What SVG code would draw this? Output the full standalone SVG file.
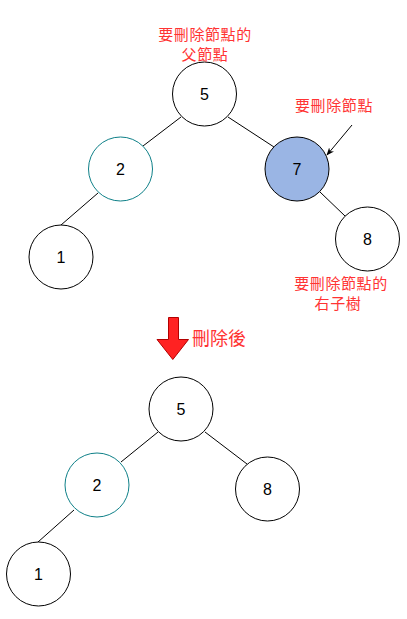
<svg xmlns="http://www.w3.org/2000/svg" width="407" height="619" viewBox="0 0 407 619">
<defs>
<style>
.n{fill:#ffffff;stroke:#000000;stroke-width:1}
.lbl{font-family:"Liberation Sans",Arial,sans-serif;font-size:16px;fill:#000000;text-anchor:middle;dominant-baseline:central}
.red{font-family:"Noto Sans CJK TC","Noto Sans CJK SC",sans-serif;font-size:15px;letter-spacing:0.6px;fill:#ff3333;text-anchor:middle}
.e{stroke:#000000;stroke-width:1;fill:none}
</style>
<marker id="ah" viewBox="0 0 10 10" refX="9" refY="5" markerWidth="8" markerHeight="8" orient="auto" markerUnits="userSpaceOnUse">
<path d="M0,1 L10,5 L0,9 L3,5 Z" fill="#000000"/>
</marker>
</defs>
<rect width="407" height="619" fill="#ffffff"/>
<g id="connectors">
<line class="e" x1="181" y1="117" x2="143" y2="146"/>
<line class="e" x1="228" y1="117" x2="274" y2="147"/>
<line class="e" x1="98" y1="193" x2="61" y2="225"/>
<line class="e" x1="320" y1="192" x2="345" y2="216"/>
<line class="e" x1="352" y1="125" x2="327" y2="155" marker-end="url(#ah)"/>
<line class="e" x1="158" y1="432" x2="121" y2="462"/>
<line class="e" x1="74" y1="510" x2="38" y2="542"/>
<line class="e" x1="205" y1="432" x2="247" y2="464"/>
</g>
<g id="n5"><circle class="n" cx="204.5" cy="94" r="32"/><text class="lbl" x="204.5" y="94">5</text></g>
<g id="n2"><circle class="n" cx="120.5" cy="169" r="32" style="stroke:#0e8088"/><text class="lbl" x="120.5" y="169">2</text></g>
<g id="n7"><circle class="n" cx="297" cy="169" r="32" style="fill:#9ab5e4"/><text class="lbl" x="297" y="169">7</text></g>
<g id="n1"><circle class="n" cx="61" cy="257" r="32"/><text class="lbl" x="61" y="257">1</text></g>
<g id="n8"><circle class="n" cx="367.5" cy="239" r="32"/><text class="lbl" x="367.5" y="239">8</text></g>
<g id="label-parent"><text class="red" x="205" y="40">要刪除節點的</text><text class="red" x="205" y="60">父節點</text></g>
<g id="label-delete"><text class="red" x="334" y="111">要刪除節點</text></g>
<g id="label-right"><text class="red" x="341" y="289">要刪除節點的</text><text class="red" x="338" y="309">右子樹</text></g>
<g id="down-arrow"><path d="M168.5,317.5 L178.5,317.5 L178.5,339.5 L188.5,339.5 L172.8,359.5 L157,339.5 L168.5,339.5 Z" fill="#ff2222" stroke="#b20000" stroke-width="1"/></g>
<g id="label-after"><text class="red" x="219" y="345" style="font-size:18px;letter-spacing:0">刪除後</text></g>
<g id="b5"><circle class="n" cx="181" cy="409" r="32"/><text class="lbl" x="181" y="409">5</text></g>
<g id="b2"><circle class="n" cx="97" cy="485" r="32" style="stroke:#0e8088"/><text class="lbl" x="97" y="485">2</text></g>
<g id="b8"><circle class="n" cx="267.5" cy="489" r="32"/><text class="lbl" x="267.5" y="489">8</text></g>
<g id="b1"><circle class="n" cx="38.5" cy="574" r="32"/><text class="lbl" x="38.5" y="574">1</text></g>
</svg>
